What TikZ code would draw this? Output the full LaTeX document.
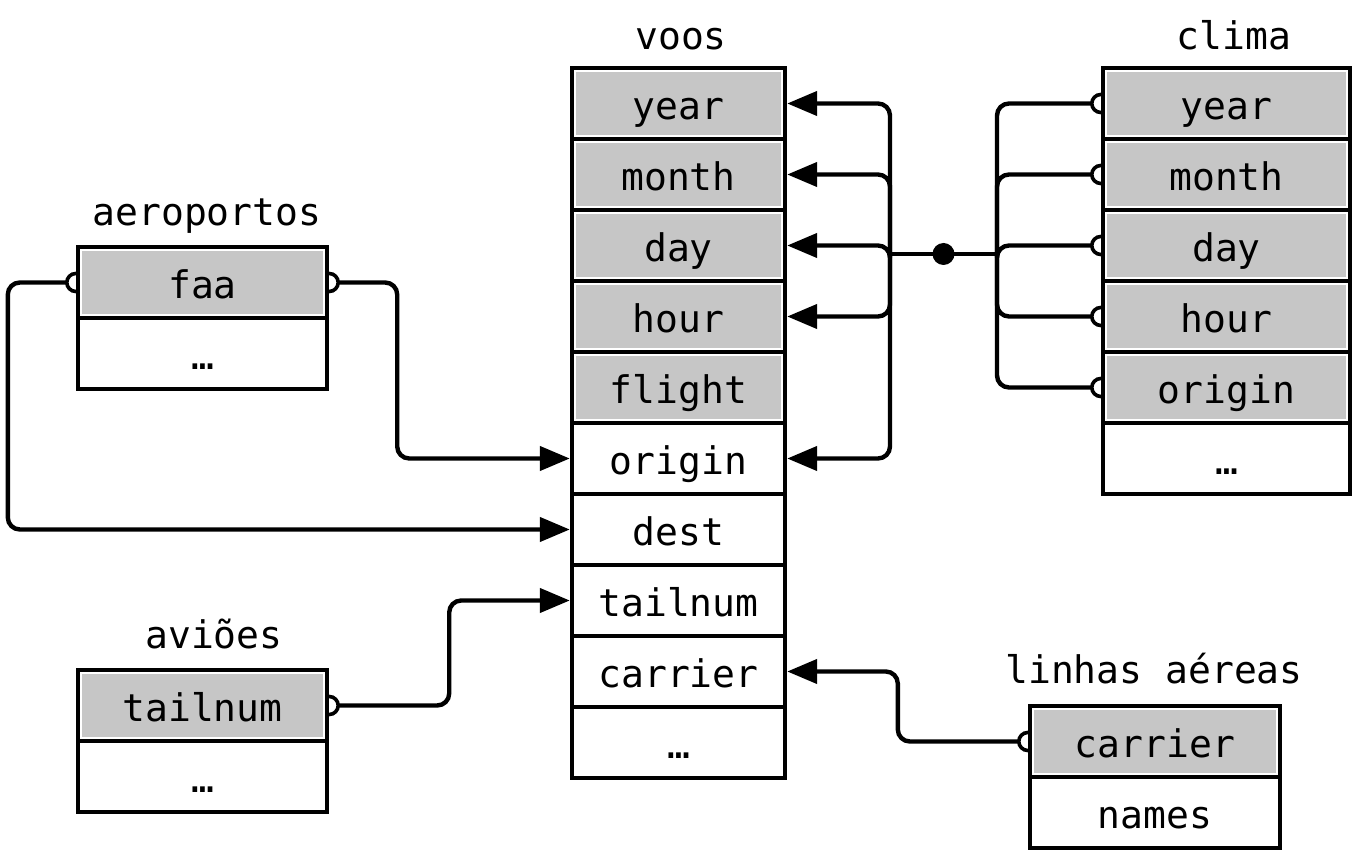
\documentclass[tikz,border=0pt]{standalone}
\usepackage{fontspec}
\setmonofont{DejaVu Sans Mono}
\usetikzlibrary{arrows.meta}
\definecolor{keygray}{RGB}{198,198,198}
\pgfdeclarelayer{background}
\pgfsetlayers{background,main}
\tikzset{
  cell/.style={draw, line width=2.2pt, fill=white, inner sep=0pt,
    minimum height=35.5pt, text height=16pt, text depth=0pt,
    font=\ttfamily\fontsize{19}{23}\selectfont},
  keycell/.style={cell, path picture={\fill[keygray]
    ([shift={(2pt,-2pt)}]path picture bounding box.north west) rectangle
    ([shift={(-2pt,2pt)}]path picture bounding box.south east);}},
  tabtitle/.style={anchor=base, inner sep=0pt, font=\ttfamily\fontsize{19}{23}\selectfont},
  link/.style={line width=2.2pt, rounded corners=6pt},
  arrowlink/.style={link, -{Triangle[length=15pt,width=12pt]}},
  ring/.style={draw, line width=1.8pt, fill=white}
}
\begin{document}
\begin{tikzpicture}[x=0.5pt,y=-0.5pt]
\useasboundingbox (0,0) rectangle (1356,855);
% voos
\node[tabtitle] (t-voos) at (681,50) {voos};
\foreach \f [count=\i from 0] in {year,month,day,hour,flight}
  \node[keycell, minimum width=106.5pt] (v-\f) at (678.5,103.5+71*\i) {\f};
\foreach \f [count=\i from 5] in {origin,dest,tailnum,carrier}
  \node[cell, minimum width=106.5pt] (v-\f) at (678.5,103.5+71*\i) {\f};
\node[cell, minimum width=106.5pt] (v-more) at (678.5,742.5) {…};
% clima
\node[tabtitle] (t-clima) at (1234,50) {clima};
\foreach \f [count=\i from 0] in {year,month,day,hour,origin}
  \node[keycell, minimum width=123.5pt] (c-\f) at (1226.5,103.5+71*\i) {\f};
\node[cell, minimum width=123.5pt] (c-more) at (1226.5,458.5) {…};
% aeroportos
\node[tabtitle] (t-aero) at (207,226) {aeroportos};
\node[keycell, minimum width=124.5pt] (a-faa) at (202.5,282.5) {faa};
\node[cell, minimum width=124.5pt] (a-more) at (202.5,353.5) {…};
% avioes
\node[tabtitle] (t-avioes) at (214,649) {aviões};
\node[keycell, minimum width=124.5pt] (p-tailnum) at (202.5,705.5) {tailnum};
\node[cell, minimum width=124.5pt] (p-more) at (202.5,776.5) {…};
% linhas aereas
\node[tabtitle] (t-linhas) at (1154,683) {linhas aéreas};
\node[keycell, minimum width=125pt] (l-carrier) at (1155,741.5) {carrier};
\node[cell, minimum width=125pt] (l-names) at (1155,812.5) {names};

\begin{pgfonlayer}{background}
% clima -> voos
\coordinate (jl) at (890,254);
\coordinate (jr) at (997,254);
\coordinate (dot) at (943.5,254);
\draw[link] (jl) -- (jr);
\fill (dot) circle[radius=5.5pt];
\foreach \f in {year,month,day,hour,origin}{
  \draw[arrowlink] (jl) |- (v-\f.east);
  \draw[link] (jr) |- (c-\f.west);
  \draw[ring] (c-\f.west) circle[radius=4.5pt];
}
% aeroportos -> voos
\draw[arrowlink] (a-faa.east) -- ++(68,0) |- (v-origin.west);
\draw[arrowlink] (a-faa.west) -- ++(-68,0) |- (v-dest.west);
\draw[ring] (a-faa.east) circle[radius=4.5pt];
\draw[ring] (a-faa.west) circle[radius=4.5pt];
% avioes -> voos
\draw[arrowlink] (p-tailnum.east) -- ++(120,0) |- (v-tailnum.west);
\draw[ring] (p-tailnum.east) circle[radius=4.5pt];
% linhas aereas -> voos
\draw[arrowlink] (l-carrier.west) -- ++(-130,0) |- (v-carrier.east);
\draw[ring] (l-carrier.west) circle[radius=4.5pt];
\end{pgfonlayer}
\end{tikzpicture}
\end{document}
